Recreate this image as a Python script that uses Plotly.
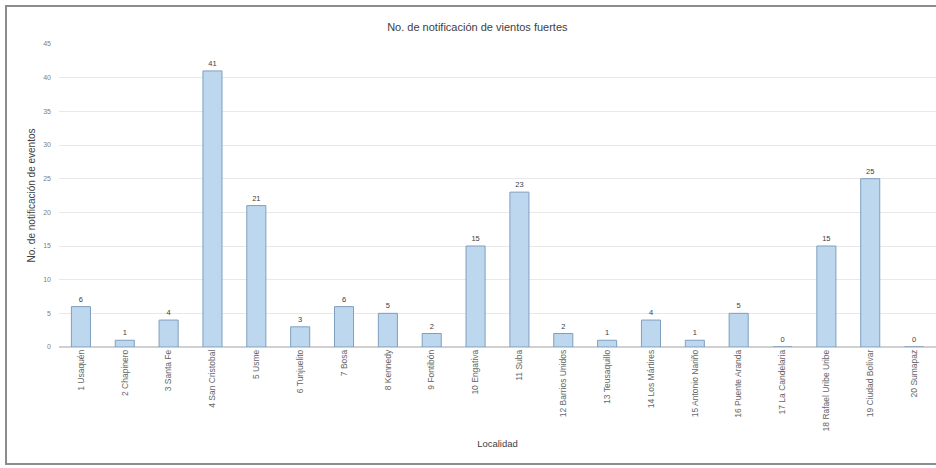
import plotly.graph_objects as go

localidades = ["1 Usaquén", "2 Chapinero", "3 Santa Fe", "4 San Cristobal", "5 Usme",
               "6 Tunjuelito", "7 Bosa", "8 Kennedy", "9 Fontibón", "10 Engativa",
               "11 Suba", "12 Barrios Unidos", "13 Teusaquillo", "14 Los Mártires",
               "15 Antonio Nariño", "16 Puente Aranda", "17 La Candelaria",
               "18 Rafael Uribe Uribe", "19 Ciudad Bolívar", "20 Sumapaz"]
notificaciones = [6, 1, 4, 41, 21, 3, 6, 5, 2, 15, 23, 2, 1, 4, 1, 5, 0, 15, 25, 0]
y_ticks = [0, 5, 10, 15, 20, 25, 30, 35, 40, 45]

FONT = "Liberation Sans"

fig = go.Figure(go.Bar(
    x=localidades, y=notificaciones,
    marker=dict(color="#bdd7ee", line=dict(color="#7f9fbf", width=1)),
    text=notificaciones, textposition="outside", cliponaxis=False,
    textfont=dict(size=7.5, color="#404040", family=FONT),
))

# plot area: x 59..936 px, y 44..347 px
L, R, T, B = 59, 0, 44, 121
pw, ph = 936 - L - R, 468 - T - B

def px_x(p):
    return (p - L) / pw

def px_y(p):
    return (468 - B - p) / ph

fig.update_layout(
    width=936, height=468,
    margin=dict(l=L, r=R, t=T, b=B),
    paper_bgcolor="white", plot_bgcolor="white",
    font=dict(family=FONT, color="#595959"),
    showlegend=False,
    bargap=0.565,
    title=dict(text="No. de notificación de vientos fuertes",
               x=0.51, xanchor="center", y=1 - 27 / 468, yanchor="middle",
               font=dict(size=11, color="#404040", family=FONT)),
    xaxis=dict(tickangle=-90, tickfont=dict(size=8.5, color="#666666"),
               showgrid=False, showline=False, ticks="",
               title=dict(text="Localidad", font=dict(size=9.5, color="#404040"), standoff=9)),
    yaxis=dict(range=[0, 45], tickvals=y_ticks, tickfont=dict(size=7, color="#808080"),
               gridcolor="#e8e8e8", gridwidth=1, zeroline=True, zerolinecolor="#d0d0d0",
               ticks="", ticklabelstandoff=7,
               title=dict(text="No. de notificación de eventos", font=dict(size=10, color="#404040"),
                          standoff=5)),
    shapes=[dict(type="rect", xref="paper", yref="paper",
                 x0=px_x(6), x1=px_x(945), y0=px_y(464), y1=px_y(6),
                 line=dict(color="#8c8c8c", width=2), fillcolor="rgba(0,0,0,0)", layer="below")],
)

fig.write_html("out.html", config={"displayModeBar": False},
               post_script="document.body.style.margin='0';document.body.style.overflow='hidden';")
